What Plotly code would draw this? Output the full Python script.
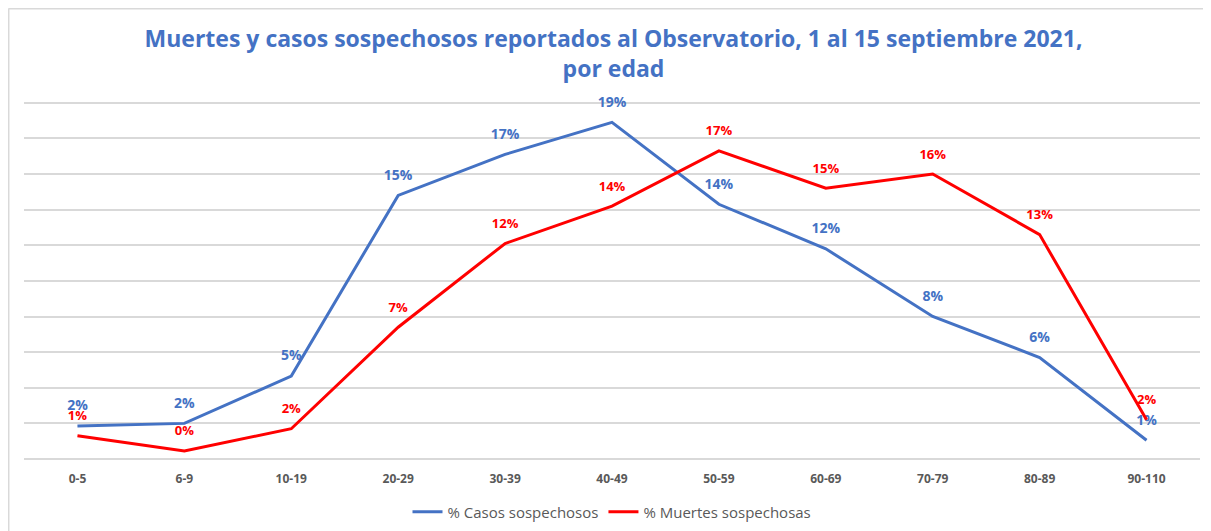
import plotly.graph_objects as go

categories = ["0-5", "6-9", "10-19", "20-29", "30-39", "40-49", "50-59", "60-69", "70-79", "80-89", "90-110"]
casos = [1.85, 2.0, 4.66, 14.8, 17.1, 18.9, 14.3, 11.8, 8.0, 5.7, 1.05]
muertes = [1.3, 0.45, 1.7, 7.4, 12.1, 14.2, 17.3, 15.2, 16.0, 12.6, 2.2]
casos_labels = ["2%", "2%", "5%", "15%", "17%", "19%", "14%", "12%", "8%", "6%", "1%"]
muertes_labels = ["1%", "0%", "2%", "7%", "12%", "14%", "17%", "15%", "16%", "13%", "2%"]

BLUE = "#4472C4"
RED = "#FF0000"
FONT = "Open Sans"

fig = go.Figure()
fig.add_trace(go.Scatter(
    x=categories, y=casos, mode="lines+markers+text", name="% Casos sospechosos",
    line=dict(color=BLUE, width=3),
    marker=dict(size=18, color="rgba(0,0,0,0)"),
    text=casos_labels, textposition="top center",
    textfont=dict(family=FONT, size=14, color=BLUE, weight="bold"),
    cliponaxis=False,
))
fig.add_trace(go.Scatter(
    x=categories, y=muertes, mode="lines+markers+text", name="% Muertes sospechosas",
    line=dict(color=RED, width=3),
    marker=dict(size=18, color="rgba(0,0,0,0)"),
    text=muertes_labels, textposition="top center",
    textfont=dict(family=FONT, size=13, color=RED, weight="bold"),
    cliponaxis=False,
))

fig.update_layout(
    width=1211, height=531,
    margin=dict(l=16, r=19, t=93, b=80, autoexpand=False),
    paper_bgcolor="white", plot_bgcolor="white",
    title=dict(
        text="Muertes y casos sospechosos reportados al Observatorio, 1 al 15 septiembre 2021,<br>por edad",
        x=0.5, xanchor="center", y=0.926, yanchor="middle", yref="container",
        font=dict(family=FONT, size=23, color=BLUE, weight="bold"),
    ),
    xaxis=dict(
        type="category", range=[-0.5, 10.5], showgrid=False, showline=False,
        ticks="outside", ticklen=9, tickcolor="rgba(0,0,0,0)",
        tickfont=dict(family=FONT, size=12, color="#595959", weight="bold"),
    ),
    yaxis=dict(
        range=[0, 20.1], dtick=2, showgrid=True, gridcolor="#d9d9d9", gridwidth=1.5,
        showticklabels=False, zeroline=True, zerolinecolor="#d9d9d9", zerolinewidth=1.5,
    ),
    legend=dict(
        orientation="h", x=0.5, xanchor="center", y=-0.148, yanchor="middle",
        font=dict(family=FONT, size=15, color="#595959"),
    ),
    showlegend=True,
)

# outer chart frame (top and left edges visible)
fig.add_shape(type="line", xref="paper", yref="paper", x0=-0.0132, x1=1.05, y0=1.2584, y1=1.2584,
              line=dict(color="#d9d9d9", width=2))
fig.add_shape(type="line", xref="paper", yref="paper", x0=-0.0132, x1=-0.0132, y0=1.2584, y1=-0.3,
              line=dict(color="#d9d9d9", width=2))

fig.write_html("out.html")
